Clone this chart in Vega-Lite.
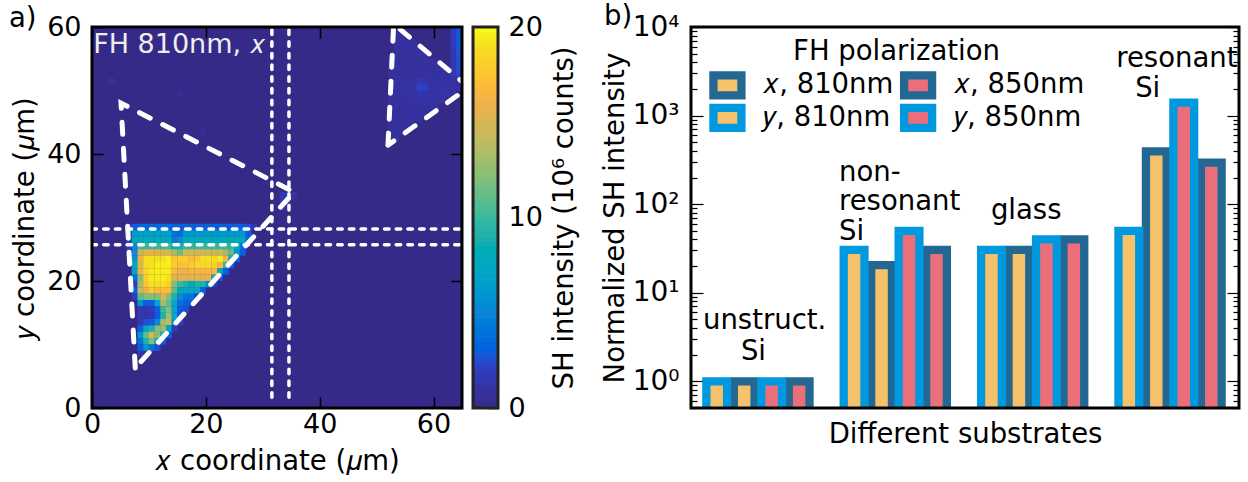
{"$schema":"https://vega.github.io/schema/vega-lite/v6.json","background":"white","padding":{"left":8,"top":2,"right":0,"bottom":0},"config":{"font":"DejaVu Sans","view":{"stroke":null},"axis":{"labelFont":"DejaVu Sans","titleFont":"DejaVu Sans","titleFontWeight":"normal","labelColor":"#000","titleColor":"#000","tickColor":"#000","grid":false,"domain":false,"labelOverlap":false,"labelBound":false,"labelFlush":false,"zindex":1}},"hconcat":[{"hconcat":[{"width":370,"height":381,"view":{"fill":"#352a87"},"layer":[{"data":{"values":[
{"x":3.5,"y":51.5,"v":0.7},{"x":15.5,"y":49.5,"v":0.6},{"x":19.5,"y":43.5,"v":0.5},{"x":33.5,"y":32.5,"v":1.3},{"x":34.5,"y":32.5,"v":1.3},{"x":33.5,"y":33.5,"v":1.6},{"x":34.5,"y":33.5,"v":1.6},{"x":35.5,"y":33.5,"v":1},{"x":33.5,"y":31.5,"v":1},
{"x":6.5,"y":28.5,"v":1.5},{"x":7.5,"y":28.5,"v":3},{"x":8.5,"y":28.5,"v":3.5},{"x":9.5,"y":28.5,"v":3.5},{"x":10.5,"y":28.5,"v":3.5},{"x":11.5,"y":28.5,"v":3.5},{"x":12.5,"y":28.5,"v":3.5},{"x":13.5,"y":28.5,"v":3.5},{"x":14.5,"y":28.5,"v":3},{"x":15.5,"y":28.5,"v":3},{"x":16.5,"y":28.5,"v":3},{"x":17.5,"y":28.5,"v":3},{"x":18.5,"y":28.5,"v":3},{"x":19.5,"y":28.5,"v":3},{"x":20.5,"y":28.5,"v":3},{"x":21.5,"y":28.5,"v":3},{"x":22.5,"y":28.5,"v":3},{"x":23.5,"y":28.5,"v":3},{"x":24.5,"y":28.5,"v":3},{"x":25.5,"y":28.5,"v":3},{"x":26.5,"y":28.5,"v":3},{"x":27.5,"y":28.5,"v":2.5},{"x":28.5,"y":28.5,"v":1.5},
{"x":6.5,"y":27.5,"v":1.5},{"x":7.5,"y":27.5,"v":6.5},{"x":8.5,"y":27.5,"v":6.5},{"x":9.5,"y":27.5,"v":6.5},{"x":10.5,"y":27.5,"v":6.5},{"x":11.5,"y":27.5,"v":6.5},{"x":12.5,"y":27.5,"v":6.5},{"x":13.5,"y":27.5,"v":6.5},{"x":14.5,"y":27.5,"v":4},{"x":15.5,"y":27.5,"v":3.5},{"x":16.5,"y":27.5,"v":6},{"x":17.5,"y":27.5,"v":6},{"x":18.5,"y":27.5,"v":6},{"x":19.5,"y":27.5,"v":6},{"x":20.5,"y":27.5,"v":6},{"x":21.5,"y":27.5,"v":6},{"x":22.5,"y":27.5,"v":6},{"x":23.5,"y":27.5,"v":6},{"x":24.5,"y":27.5,"v":6},{"x":25.5,"y":27.5,"v":6},{"x":26.5,"y":27.5,"v":6},{"x":27.5,"y":27.5,"v":3},
{"x":6.5,"y":26.5,"v":2},{"x":7.5,"y":26.5,"v":8},{"x":8.5,"y":26.5,"v":8},{"x":9.5,"y":26.5,"v":8},{"x":10.5,"y":26.5,"v":8},{"x":11.5,"y":26.5,"v":8},{"x":12.5,"y":26.5,"v":8},{"x":13.5,"y":26.5,"v":8},{"x":14.5,"y":26.5,"v":4.5},{"x":15.5,"y":26.5,"v":5},{"x":16.5,"y":26.5,"v":8},{"x":17.5,"y":26.5,"v":8},{"x":18.5,"y":26.5,"v":8},{"x":19.5,"y":26.5,"v":8},{"x":20.5,"y":26.5,"v":8},{"x":21.5,"y":26.5,"v":8},{"x":22.5,"y":26.5,"v":8},{"x":23.5,"y":26.5,"v":8},{"x":24.5,"y":26.5,"v":8},{"x":25.5,"y":26.5,"v":8},{"x":26.5,"y":26.5,"v":8},{"x":27.5,"y":26.5,"v":3.5},
{"x":6.5,"y":25.5,"v":2},{"x":7.5,"y":25.5,"v":5},{"x":8.5,"y":25.5,"v":10},{"x":9.5,"y":25.5,"v":10},{"x":10.5,"y":25.5,"v":10},{"x":11.5,"y":25.5,"v":10},{"x":12.5,"y":25.5,"v":10},{"x":13.5,"y":25.5,"v":10},{"x":14.5,"y":25.5,"v":8},{"x":15.5,"y":25.5,"v":9},{"x":16.5,"y":25.5,"v":10},{"x":17.5,"y":25.5,"v":10},{"x":18.5,"y":25.5,"v":10},{"x":19.5,"y":25.5,"v":10},{"x":20.5,"y":25.5,"v":10},{"x":21.5,"y":25.5,"v":10},{"x":22.5,"y":25.5,"v":10},{"x":23.5,"y":25.5,"v":10},{"x":24.5,"y":25.5,"v":10},{"x":25.5,"y":25.5,"v":8},{"x":26.5,"y":25.5,"v":4},
{"x":6.5,"y":24.5,"v":1.5},{"x":7.5,"y":24.5,"v":5},{"x":8.5,"y":24.5,"v":14},{"x":9.5,"y":24.5,"v":15.5},{"x":10.5,"y":24.5,"v":15.5},{"x":11.5,"y":24.5,"v":15.5},{"x":12.5,"y":24.5,"v":15},{"x":13.5,"y":24.5,"v":15},{"x":14.5,"y":24.5,"v":13},{"x":15.5,"y":24.5,"v":11.5},{"x":16.5,"y":24.5,"v":14.5},{"x":17.5,"y":24.5,"v":14.5},{"x":18.5,"y":24.5,"v":14.5},{"x":19.5,"y":24.5,"v":14.5},{"x":20.5,"y":24.5,"v":14.5},{"x":21.5,"y":24.5,"v":14.5},{"x":22.5,"y":24.5,"v":14.5},{"x":23.5,"y":24.5,"v":13},{"x":24.5,"y":24.5,"v":11},{"x":25.5,"y":24.5,"v":6},{"x":26.5,"y":24.5,"v":3},
{"x":7.5,"y":23.5,"v":6},{"x":8.5,"y":23.5,"v":16},{"x":9.5,"y":23.5,"v":19},{"x":10.5,"y":23.5,"v":19},{"x":11.5,"y":23.5,"v":19},{"x":12.5,"y":23.5,"v":19},{"x":13.5,"y":23.5,"v":19.5},{"x":14.5,"y":23.5,"v":17.5},{"x":15.5,"y":23.5,"v":18},{"x":16.5,"y":23.5,"v":18},{"x":17.5,"y":23.5,"v":17},{"x":18.5,"y":23.5,"v":17.5},{"x":19.5,"y":23.5,"v":19},{"x":20.5,"y":23.5,"v":19},{"x":21.5,"y":23.5,"v":19},{"x":22.5,"y":23.5,"v":19.5},{"x":23.5,"y":23.5,"v":16.5},{"x":24.5,"y":23.5,"v":9},{"x":25.5,"y":23.5,"v":3},
{"x":7.5,"y":22.5,"v":7},{"x":8.5,"y":22.5,"v":15},{"x":9.5,"y":22.5,"v":19},{"x":10.5,"y":22.5,"v":19},{"x":11.5,"y":22.5,"v":19.5},{"x":12.5,"y":22.5,"v":19.5},{"x":13.5,"y":22.5,"v":19.5},{"x":14.5,"y":22.5,"v":18},{"x":15.5,"y":22.5,"v":17},{"x":16.5,"y":22.5,"v":17.5},{"x":17.5,"y":22.5,"v":18},{"x":18.5,"y":22.5,"v":18.5},{"x":19.5,"y":22.5,"v":18.5},{"x":20.5,"y":22.5,"v":18.5},{"x":21.5,"y":22.5,"v":18},{"x":22.5,"y":22.5,"v":17},{"x":23.5,"y":22.5,"v":10},{"x":24.5,"y":22.5,"v":3},
{"x":7.5,"y":21.5,"v":7},{"x":8.5,"y":21.5,"v":16},{"x":9.5,"y":21.5,"v":18.5},{"x":10.5,"y":21.5,"v":19.5},{"x":11.5,"y":21.5,"v":19.5},{"x":12.5,"y":21.5,"v":19.5},{"x":13.5,"y":21.5,"v":19.5},{"x":14.5,"y":21.5,"v":17},{"x":15.5,"y":21.5,"v":16},{"x":16.5,"y":21.5,"v":16},{"x":17.5,"y":21.5,"v":16.5},{"x":18.5,"y":21.5,"v":16.5},{"x":19.5,"y":21.5,"v":16.5},{"x":20.5,"y":21.5,"v":16.5},{"x":21.5,"y":21.5,"v":17},{"x":22.5,"y":21.5,"v":8},{"x":23.5,"y":21.5,"v":3},
{"x":7.5,"y":20.5,"v":4},{"x":8.5,"y":20.5,"v":12},{"x":9.5,"y":20.5,"v":18},{"x":10.5,"y":20.5,"v":19.5},{"x":11.5,"y":20.5,"v":19.5},{"x":12.5,"y":20.5,"v":19.5},{"x":13.5,"y":20.5,"v":19},{"x":14.5,"y":20.5,"v":15},{"x":15.5,"y":20.5,"v":15.5},{"x":16.5,"y":20.5,"v":15.5},{"x":17.5,"y":20.5,"v":15.5},{"x":18.5,"y":20.5,"v":15.5},{"x":19.5,"y":20.5,"v":15.5},{"x":20.5,"y":20.5,"v":16},{"x":21.5,"y":20.5,"v":7},{"x":22.5,"y":20.5,"v":2.5},
{"x":7.5,"y":19.5,"v":2},{"x":8.5,"y":19.5,"v":13},{"x":9.5,"y":19.5,"v":17.5},{"x":10.5,"y":19.5,"v":19},{"x":11.5,"y":19.5,"v":19},{"x":12.5,"y":19.5,"v":19},{"x":13.5,"y":19.5,"v":18},{"x":14.5,"y":19.5,"v":12},{"x":15.5,"y":19.5,"v":10},{"x":16.5,"y":19.5,"v":9},{"x":17.5,"y":19.5,"v":8},{"x":18.5,"y":19.5,"v":9},{"x":19.5,"y":19.5,"v":9},{"x":20.5,"y":19.5,"v":5.5},{"x":21.5,"y":19.5,"v":2},
{"x":7.5,"y":18.5,"v":3},{"x":8.5,"y":18.5,"v":14},{"x":9.5,"y":18.5,"v":16},{"x":10.5,"y":18.5,"v":18},{"x":11.5,"y":18.5,"v":17},{"x":12.5,"y":18.5,"v":17},{"x":13.5,"y":18.5,"v":17},{"x":14.5,"y":18.5,"v":11},{"x":15.5,"y":18.5,"v":8},{"x":16.5,"y":18.5,"v":7},{"x":17.5,"y":18.5,"v":7},{"x":18.5,"y":18.5,"v":7},{"x":19.5,"y":18.5,"v":3},
{"x":7.5,"y":17.5,"v":2},{"x":8.5,"y":17.5,"v":11},{"x":9.5,"y":17.5,"v":12},{"x":10.5,"y":17.5,"v":12},{"x":11.5,"y":17.5,"v":12},{"x":12.5,"y":17.5,"v":15},{"x":13.5,"y":17.5,"v":12},{"x":14.5,"y":17.5,"v":9},{"x":15.5,"y":17.5,"v":5},{"x":16.5,"y":17.5,"v":4},{"x":17.5,"y":17.5,"v":4},{"x":18.5,"y":17.5,"v":2},
{"x":8.5,"y":16.5,"v":6},{"x":9.5,"y":16.5,"v":3},{"x":10.5,"y":16.5,"v":3},{"x":11.5,"y":16.5,"v":7},{"x":12.5,"y":16.5,"v":13},{"x":13.5,"y":16.5,"v":11},{"x":14.5,"y":16.5,"v":7},{"x":15.5,"y":16.5,"v":4},{"x":16.5,"y":16.5,"v":3},{"x":17.5,"y":16.5,"v":3},
{"x":8.5,"y":15.5,"v":1.5},{"x":9.5,"y":15.5,"v":1.5},{"x":10.5,"y":15.5,"v":2},{"x":11.5,"y":15.5,"v":3},{"x":12.5,"y":15.5,"v":10},{"x":13.5,"y":15.5,"v":12},{"x":14.5,"y":15.5,"v":7},{"x":15.5,"y":15.5,"v":3},{"x":16.5,"y":15.5,"v":2.5},
{"x":8.5,"y":14.5,"v":1.5},{"x":9.5,"y":14.5,"v":1.2},{"x":10.5,"y":14.5,"v":1.5},{"x":11.5,"y":14.5,"v":3},{"x":12.5,"y":14.5,"v":9},{"x":13.5,"y":14.5,"v":13},{"x":14.5,"y":14.5,"v":7},{"x":15.5,"y":14.5,"v":3},
{"x":8.5,"y":13.5,"v":1.5},{"x":9.5,"y":13.5,"v":2.5},{"x":10.5,"y":13.5,"v":3},{"x":11.5,"y":13.5,"v":5},{"x":12.5,"y":13.5,"v":13},{"x":13.5,"y":13.5,"v":14},{"x":14.5,"y":13.5,"v":6},{"x":15.5,"y":13.5,"v":2},
{"x":8.5,"y":12.5,"v":3},{"x":9.5,"y":12.5,"v":7},{"x":10.5,"y":12.5,"v":9},{"x":11.5,"y":12.5,"v":12},{"x":12.5,"y":12.5,"v":13},{"x":13.5,"y":12.5,"v":8},{"x":14.5,"y":12.5,"v":2},
{"x":8.5,"y":11.5,"v":6},{"x":9.5,"y":11.5,"v":11},{"x":10.5,"y":11.5,"v":15},{"x":11.5,"y":11.5,"v":12},{"x":12.5,"y":11.5,"v":9},{"x":13.5,"y":11.5,"v":3},
{"x":8.5,"y":10.5,"v":4},{"x":9.5,"y":10.5,"v":9},{"x":10.5,"y":10.5,"v":12},{"x":11.5,"y":10.5,"v":9},{"x":12.5,"y":10.5,"v":3},
{"x":8.5,"y":9.5,"v":3},{"x":9.5,"y":9.5,"v":6},{"x":10.5,"y":9.5,"v":4},{"x":11.5,"y":9.5,"v":2.5},{"x":8.5,"y":8.5,"v":1.2},{"x":9.5,"y":8.5,"v":1},
{"x":52.5,"y":42.5,"v":0.8},{"x":53.5,"y":42.5,"v":0.8},{"x":52.5,"y":43.5,"v":0.8},{"x":53.5,"y":43.5,"v":0.8},{"x":54.5,"y":43.5,"v":0.8},{"x":52.5,"y":44.5,"v":0.8},{"x":53.5,"y":44.5,"v":0.8},{"x":54.5,"y":44.5,"v":0.8},{"x":55.5,"y":44.5,"v":0.8},{"x":56.5,"y":44.5,"v":0.8},{"x":52.5,"y":45.5,"v":0.8},{"x":53.5,"y":45.5,"v":0.8},{"x":54.5,"y":45.5,"v":0.8},{"x":55.5,"y":45.5,"v":0.8},{"x":56.5,"y":45.5,"v":0.8},{"x":57.5,"y":45.5,"v":0.8},{"x":52.5,"y":46.5,"v":0.8},{"x":53.5,"y":46.5,"v":0.8},{"x":54.5,"y":46.5,"v":0.8},{"x":55.5,"y":46.5,"v":0.9},{"x":56.5,"y":46.5,"v":0.9},{"x":57.5,"y":46.5,"v":0.9},{"x":58.5,"y":46.5,"v":0.8},{"x":59.5,"y":46.5,"v":0.8},{"x":52.5,"y":47.5,"v":0.8},{"x":53.5,"y":47.5,"v":0.9},{"x":54.5,"y":47.5,"v":0.9},{"x":55.5,"y":47.5,"v":0.9},{"x":56.5,"y":47.5,"v":0.9},{"x":57.5,"y":47.5,"v":0.9},{"x":58.5,"y":47.5,"v":0.9},{"x":59.5,"y":47.5,"v":0.9},{"x":60.5,"y":47.5,"v":0.8},{"x":52.5,"y":48.5,"v":0.8},{"x":53.5,"y":48.5,"v":0.9},{"x":54.5,"y":48.5,"v":0.9},{"x":55.5,"y":48.5,"v":1},{"x":56.5,"y":48.5,"v":1},{"x":57.5,"y":48.5,"v":1},{"x":58.5,"y":48.5,"v":1},{"x":59.5,"y":48.5,"v":1},{"x":60.5,"y":48.5,"v":1},{"x":61.5,"y":48.5,"v":1.1},{"x":52.5,"y":49.5,"v":0.8},{"x":53.5,"y":49.5,"v":0.9},{"x":54.5,"y":49.5,"v":0.9},{"x":55.5,"y":49.5,"v":1},{"x":56.5,"y":49.5,"v":1},{"x":57.5,"y":49.5,"v":1.6},{"x":58.5,"y":49.5,"v":1.2},{"x":59.5,"y":49.5,"v":1},{"x":60.5,"y":49.5,"v":1.3},{"x":61.5,"y":49.5,"v":1.3},{"x":62.5,"y":49.5,"v":1.2},{"x":63.5,"y":49.5,"v":1},{"x":52.5,"y":50.5,"v":0.8},{"x":53.5,"y":50.5,"v":0.9},{"x":54.5,"y":50.5,"v":0.9},{"x":55.5,"y":50.5,"v":1},{"x":56.5,"y":50.5,"v":1.2},{"x":57.5,"y":50.5,"v":2.2},{"x":58.5,"y":50.5,"v":2.2},{"x":59.5,"y":50.5,"v":1.2},{"x":60.5,"y":50.5,"v":1},{"x":61.5,"y":50.5,"v":1.1},{"x":62.5,"y":50.5,"v":1.1},{"x":63.5,"y":50.5,"v":1.1},{"x":64.5,"y":50.5,"v":1},{"x":52.5,"y":51.5,"v":0.8},{"x":53.5,"y":51.5,"v":0.9},{"x":54.5,"y":51.5,"v":0.9},{"x":55.5,"y":51.5,"v":0.9},{"x":56.5,"y":51.5,"v":1},{"x":57.5,"y":51.5,"v":1.4},{"x":58.5,"y":51.5,"v":1.4},{"x":59.5,"y":51.5,"v":1},{"x":60.5,"y":51.5,"v":1},{"x":61.5,"y":51.5,"v":1},{"x":62.5,"y":51.5,"v":1},{"x":63.5,"y":51.5,"v":1},{"x":64.5,"y":51.5,"v":1},{"x":52.5,"y":52.5,"v":0.8},{"x":53.5,"y":52.5,"v":0.9},{"x":54.5,"y":52.5,"v":0.9},{"x":55.5,"y":52.5,"v":0.9},{"x":56.5,"y":52.5,"v":0.9},{"x":57.5,"y":52.5,"v":0.9},{"x":58.5,"y":52.5,"v":0.9},{"x":59.5,"y":52.5,"v":0.9},{"x":60.5,"y":52.5,"v":0.9},{"x":61.5,"y":52.5,"v":0.9},{"x":62.5,"y":52.5,"v":0.9},{"x":52.5,"y":53.5,"v":0.8},{"x":53.5,"y":53.5,"v":0.9},{"x":54.5,"y":53.5,"v":0.9},{"x":55.5,"y":53.5,"v":0.9},{"x":56.5,"y":53.5,"v":0.9},{"x":57.5,"y":53.5,"v":0.9},{"x":58.5,"y":53.5,"v":0.9},{"x":59.5,"y":53.5,"v":0.9},{"x":60.5,"y":53.5,"v":0.9},{"x":61.5,"y":53.5,"v":0.9},{"x":52.5,"y":54.5,"v":0.8},{"x":53.5,"y":54.5,"v":0.9},{"x":54.5,"y":54.5,"v":0.9},{"x":55.5,"y":54.5,"v":0.9},{"x":56.5,"y":54.5,"v":0.9},{"x":57.5,"y":54.5,"v":0.9},{"x":58.5,"y":54.5,"v":0.9},{"x":59.5,"y":54.5,"v":0.9},{"x":60.5,"y":54.5,"v":0.9},{"x":53.5,"y":55.5,"v":0.9},{"x":54.5,"y":55.5,"v":0.9},{"x":55.5,"y":55.5,"v":0.9},{"x":56.5,"y":55.5,"v":0.9},{"x":57.5,"y":55.5,"v":0.9},{"x":58.5,"y":55.5,"v":0.9},{"x":53.5,"y":56.5,"v":0.9},{"x":54.5,"y":56.5,"v":0.9},{"x":55.5,"y":56.5,"v":0.9},{"x":56.5,"y":56.5,"v":0.9},{"x":57.5,"y":56.5,"v":0.9},{"x":53.5,"y":57.5,"v":0.9},{"x":54.5,"y":57.5,"v":0.9},{"x":55.5,"y":57.5,"v":0.9},{"x":56.5,"y":57.5,"v":0.9},{"x":53.5,"y":58.5,"v":0.9},{"x":54.5,"y":58.5,"v":0.9},
{"x":63.5,"y":52.5,"v":1.5},{"x":63.5,"y":53.5,"v":1.5},{"x":63.5,"y":54.5,"v":1.6},{"x":63.5,"y":55.5,"v":1.6},{"x":63.5,"y":56.5,"v":1.8},{"x":63.5,"y":57.5,"v":1.8},{"x":63.5,"y":58.5,"v":2},{"x":63.5,"y":59.5,"v":2},{"x":64.5,"y":52.5,"v":2.2},{"x":64.5,"y":53.5,"v":2.5},{"x":64.5,"y":54.5,"v":2.6},{"x":64.5,"y":55.5,"v":2.8},{"x":64.5,"y":56.5,"v":2.8},{"x":64.5,"y":57.5,"v":3},{"x":64.5,"y":58.5,"v":3},{"x":64.5,"y":59.5,"v":3}
]},"mark":{"type":"rect","width":5.9,"height":6.55,"clip":true},"encoding":{"x":{"field":"x","type":"quantitative","scale":{"domain":[0,65],"nice":false,"zero":false},"axis":{"values":[0,20,40,60],"orient":"bottom","tickSize":-11,"tickWidth":1.5,"labelFontSize":27,"labelPadding":14,"titleFontSize":27.5,"titlePadding":10,"title":"𝑥 coordinate (𝜇m)","format":"d"}},"y":{"field":"y","type":"quantitative","scale":{"domain":[0,60],"nice":false,"zero":false},"axis":{"values":[0,20,40,60],"orient":"left","tickSize":-11,"tickWidth":1.5,"labelFontSize":27,"labelPadding":22,"titleFontSize":27.5,"titlePadding":7,"title":"𝑦 coordinate (𝜇m)","format":"d"}},"color":{"field":"v","type":"quantitative","legend":null,"scale":{"domain":[0,2,3,5,7,9,10,12,14,16,17,19,20],"range":["#352a87","#2f3cc0","#0a5fe0","#1485d4","#09a5c6","#1eb0aa","#38b99e","#7fbf7b","#c0ba62","#f0b04a","#fdbb38","#f5e020","#f9fb15"]}}}},
{"data":{"values":[{"g":"t1","o":1,"px":7.6,"py":6.3},{"g":"t1","o":2,"px":5.1,"py":48},{"g":"t1","o":3,"px":35.5,"py":34},{"g":"t1","o":4,"px":7.6,"py":6.3},{"g":"t2","o":1,"px":52,"py":41.4},{"g":"t2","o":2,"px":53,"py":60.5},{"g":"t2","o":3,"px":66.2,"py":50.5},{"g":"t2","o":4,"px":52,"py":41.4}]},"mark":{"type":"line","color":"white","strokeWidth":5,"strokeCap":"round","strokeDash":[12,14],"clip":true},"encoding":{"x":{"field":"px","type":"quantitative","scale":{"domain":[0,65],"nice":false,"zero":false},"axis":{"orient":"top","values":[0,20,40,60],"labels":false,"title":null,"tickSize":-11,"tickWidth":1.5}},"y":{"field":"py","type":"quantitative","scale":{"domain":[0,60],"nice":false,"zero":false},"axis":{"orient":"right","values":[0,20,40,60],"labels":false,"title":null,"tickSize":-11,"tickWidth":1.5}},"detail":{"field":"g"},"order":{"field":"o"}}},
{"data":{"values":[{"g":"v1","o":1,"px":31.6,"py":1.7},{"g":"v1","o":2,"px":31.6,"py":60},{"g":"v2","o":1,"px":34.6,"py":1.7},{"g":"v2","o":2,"px":34.6,"py":60},{"g":"h1","o":1,"px":0,"py":28.2},{"g":"h1","o":2,"px":65,"py":28.2},{"g":"h2","o":1,"px":0,"py":25.7},{"g":"h2","o":2,"px":65,"py":25.7}]},"mark":{"type":"line","color":"white","strokeWidth":3.5,"strokeCap":"round","strokeDash":[4.5,7.2],"clip":true},"encoding":{"x":{"field":"px","type":"quantitative","axis":null},"y":{"field":"py","type":"quantitative","axis":null},"detail":{"field":"g"},"order":{"field":"o"}}},
{"data":{"values":[{"tx":0.2,"ty":57.2,"t":"FH 810nm, 𝑥"}]},"mark":{"type":"text","align":"left","baseline":"middle","fontSize":27,"color":"#eeeeee"},"encoding":{"x":{"field":"tx","type":"quantitative","axis":null},"y":{"field":"ty","type":"quantitative","axis":null},"text":{"field":"t"}}},
{"data":{"values":[{"tx":-14.6,"ty":61.2,"t":"a)"}]},"mark":{"type":"text","align":"left","baseline":"middle","fontSize":27.5,"color":"#000"},"encoding":{"x":{"field":"tx","type":"quantitative","axis":null},"y":{"field":"ty","type":"quantitative","axis":null},"text":{"field":"t"}}},
{"data":{"values":[{"frame":1}]},"mark":{"type":"rect","fill":null,"stroke":"#000","strokeWidth":3},"encoding":{}}
],"resolve":{"axis":{"x":"independent","y":"independent"}}},
{"width":25,"height":381,"layer":[{"data":{"values":[{"c":0.125},{"c":0.375},{"c":0.625},{"c":0.875},{"c":1.125},{"c":1.375},{"c":1.625},{"c":1.875},{"c":2.125},{"c":2.375},{"c":2.625},{"c":2.875},{"c":3.125},{"c":3.375},{"c":3.625},{"c":3.875},{"c":4.125},{"c":4.375},{"c":4.625},{"c":4.875},{"c":5.125},{"c":5.375},{"c":5.625},{"c":5.875},{"c":6.125},{"c":6.375},{"c":6.625},{"c":6.875},{"c":7.125},{"c":7.375},{"c":7.625},{"c":7.875},{"c":8.125},{"c":8.375},{"c":8.625},{"c":8.875},{"c":9.125},{"c":9.375},{"c":9.625},{"c":9.875},{"c":10.125},{"c":10.375},{"c":10.625},{"c":10.875},{"c":11.125},{"c":11.375},{"c":11.625},{"c":11.875},{"c":12.125},{"c":12.375},{"c":12.625},{"c":12.875},{"c":13.125},{"c":13.375},{"c":13.625},{"c":13.875},{"c":14.125},{"c":14.375},{"c":14.625},{"c":14.875},{"c":15.125},{"c":15.375},{"c":15.625},{"c":15.875},{"c":16.125},{"c":16.375},{"c":16.625},{"c":16.875},{"c":17.125},{"c":17.375},{"c":17.625},{"c":17.875},{"c":18.125},{"c":18.375},{"c":18.625},{"c":18.875},{"c":19.125},{"c":19.375},{"c":19.625},{"c":19.875}]},"mark":{"type":"rect","height":5.4,"clip":true},"encoding":{"y":{"field":"c","type":"quantitative","scale":{"domain":[0,20],"nice":false,"zero":false},"axis":{"orient":"right","values":[0,10,20],"tickSize":-11,"tickWidth":1.5,"labelFontSize":27,"labelPadding":21,"titleFontSize":27.5,"titlePadding":8,"titleAngle":-90,"titleBaseline":"top","title":"SH intensity (10⁶ counts)","format":"d"}},"color":{"field":"c","type":"quantitative","legend":null,"scale":{"domain":[0,2,3,5,7,9,10,12,14,16,17,19,20],"range":["#352a87","#2f3cc0","#0a5fe0","#1485d4","#09a5c6","#1eb0aa","#38b99e","#7fbf7b","#c0ba62","#f0b04a","#fdbb38","#f5e020","#f9fb15"]}}}},
{"data":{"values":[{"frame":1}]},"mark":{"type":"rect","fill":null,"stroke":"#222","strokeWidth":3},"encoding":{}}]}],"spacing":7},
{"width":548,"height":381,"layer":[{"data":{"values":[
{"substrate":"unstructured Si","s":1,"val":1,"pol":"x","wave":"810"},{"substrate":"unstructured Si","s":3,"val":1,"pol":"x","wave":"850"},{"substrate":"non-resonant Si","s":6,"val":20.5,"pol":"x","wave":"810"},{"substrate":"non-resonant Si","s":8,"val":30.5,"pol":"x","wave":"850"},{"substrate":"glass","s":11,"val":30.5,"pol":"x","wave":"810"},{"substrate":"glass","s":13,"val":40,"pol":"x","wave":"850"},{"substrate":"resonant Si","s":16,"val":395,"pol":"x","wave":"810"},{"substrate":"resonant Si","s":18,"val":295,"pol":"x","wave":"850"},
{"substrate":"unstructured Si","s":0,"val":1,"pol":"y","wave":"810"},{"substrate":"unstructured Si","s":2,"val":1,"pol":"y","wave":"850"},{"substrate":"non-resonant Si","s":5,"val":30.5,"pol":"y","wave":"810"},{"substrate":"non-resonant Si","s":7,"val":50,"pol":"y","wave":"850"},{"substrate":"glass","s":10,"val":30.5,"pol":"y","wave":"810"},{"substrate":"glass","s":12,"val":40,"pol":"y","wave":"850"},{"substrate":"resonant Si","s":15,"val":50,"pol":"y","wave":"810"},{"substrate":"resonant Si","s":17,"val":1400,"pol":"y","wave":"850"}
]},"mark":{"type":"bar","width":20.75,"strokeWidth":8.3,"clip":true},"encoding":{"x":{"field":"s","type":"quantitative","scale":{"domain":[-0.936,19.01],"nice":false,"zero":false,"padding":0},"axis":{"orient":"bottom","ticks":false,"labels":false,"title":"Different substrates","titleFontSize":27.5,"titlePadding":12}},"y":{"field":"val","type":"quantitative","stack":null,"scale":{"type":"log","domain":[0.5,10000],"nice":false},"axis":{"orient":"left","values":[0.5,0.6,0.7,0.8,0.9,1,2,3,4,5,6,7,8,9,10,20,30,40,50,60,70,80,90,100,200,300,400,500,600,700,800,900,1000,2000,3000,4000,5000,6000,7000,8000,9000,10000],"labelExpr":"datum.value==1?'10⁰':datum.value==10?'10¹':datum.value==100?'10²':datum.value==1000?'10³':datum.value==10000?'10⁴':''","tickSize":{"condition":{"test":"datum.value==1||datum.value==10||datum.value==100||datum.value==1000||datum.value==10000","value":-12},"value":-6},"tickWidth":1.2,"labelFontSize":28,"labelPadding":24,"titleFontSize":27.5,"titlePadding":3,"title":"Normalized SH intensity"}},"y2":{"datum":0.3},"stroke":{"field":"pol","type":"nominal","legend":null,"scale":{"domain":["x","y"],"range":["#236893","#0099e0"]}},"fill":{"field":"wave","type":"nominal","legend":null,"scale":{"domain":["810","850"],"range":["#f5c26b","#ea6f7b"]}}}},
{"data":{"values":[{"lx":0.39,"ly":2190,"pol":"x","wave":"810"},{"lx":0.39,"ly":942,"pol":"y","wave":"810"},{"lx":7.33,"ly":2190,"pol":"x","wave":"850"},{"lx":7.33,"ly":942,"pol":"y","wave":"850"}]},"mark":{"type":"rect","width":28,"height":20,"strokeWidth":8.3},"encoding":{"x":{"field":"lx","type":"quantitative","axis":null},"y":{"field":"ly","type":"quantitative","axis":null},"stroke":{"field":"pol","type":"nominal","legend":null},"fill":{"field":"wave","type":"nominal","legend":null}}},
{"data":{"values":[{"tx":2.78,"ty":5170,"t":"FH polarization"},{"tx":1.69,"ty":2190,"t":"𝑥, 810nm"},{"tx":1.69,"ty":942,"t":"𝑦, 810nm"},{"tx":8.64,"ty":2190,"t":"𝑥, 850nm"},{"tx":8.64,"ty":942,"t":"𝑦, 850nm"},{"tx":-0.5,"ty":4.76,"t":"unstruct."},{"tx":0.88,"ty":2.12,"t":"Si"},{"tx":4.45,"ty":223,"t":"non-"},{"tx":4.45,"ty":105,"t":"resonant"},{"tx":4.45,"ty":48,"t":"Si"},{"tx":9.98,"ty":83,"t":"glass"},{"tx":14.54,"ty":4300,"t":"resonant"},{"tx":15.23,"ty":1980,"t":"Si"}]},"mark":{"type":"text","align":"left","baseline":"middle","fontSize":27.5,"color":"#000"},"encoding":{"x":{"field":"tx","type":"quantitative","scale":{"domain":[-0.936,19.01],"nice":false,"zero":false},"axis":{"orient":"top","ticks":false,"labels":false,"title":null}},"y":{"field":"ty","type":"quantitative","scale":{"type":"log","domain":[0.5,10000],"nice":false},"axis":{"orient":"right","values":[0.5,0.6,0.7,0.8,0.9,1,2,3,4,5,6,7,8,9,10,20,30,40,50,60,70,80,90,100,200,300,400,500,600,700,800,900,1000,2000,3000,4000,5000,6000,7000,8000,9000,10000],"labels":false,"title":null,"tickSize":{"condition":{"test":"datum.value==1||datum.value==10||datum.value==100||datum.value==1000||datum.value==10000","value":-12},"value":-6},"tickWidth":1.2}},"text":{"field":"t"}}},
{"data":{"values":[{"tx":-4.1,"ty":13000,"t":"b)"}]},"mark":{"type":"text","align":"left","baseline":"middle","fontSize":27.5,"color":"#000"},"encoding":{"x":{"field":"tx","type":"quantitative","axis":null},"y":{"field":"ty","type":"quantitative","axis":null},"text":{"field":"t"}}},
{"data":{"values":[{"frame":1}]},"mark":{"type":"rect","fill":null,"stroke":"#000","strokeWidth":3},"encoding":{}}
],"resolve":{"axis":{"x":"independent","y":"independent"}}}],"spacing":23}
